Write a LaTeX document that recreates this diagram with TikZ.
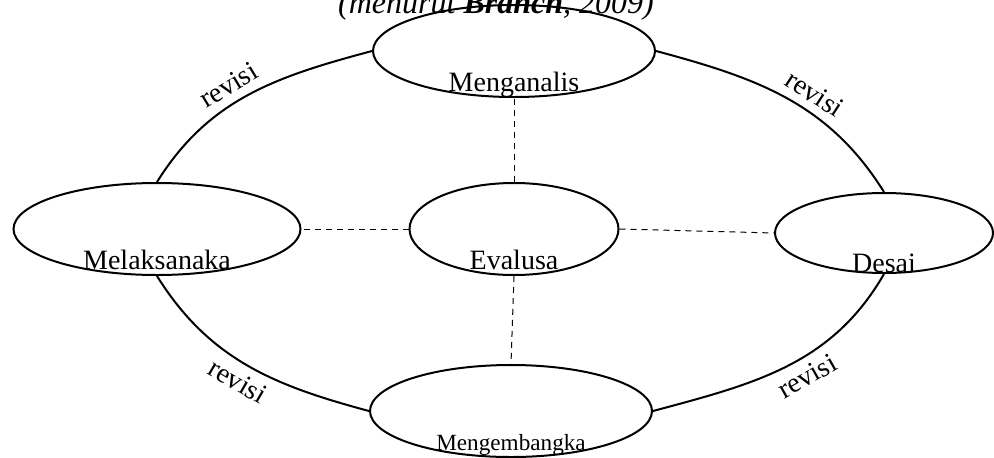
\documentclass[tikz,border=0pt]{standalone}
\usepackage{fontspec}
\setmainfont{Liberation Serif}
\usetikzlibrary{shapes.geometric}

\begin{document}
\begin{tikzpicture}[x=0.5pt, y=0.5pt,
	tahap/.style={ellipse, draw=black, line width=1pt, inner sep=0pt},
	teks/.style={font=\fontsize{14}{17}\selectfont, anchor=base, yshift=3.5pt},
	siklus/.style={line width=1pt},
	garis/.style={line width=0.5pt, dash pattern=on 3pt off 2.5pt},
	rev/.style={font=\fontsize{14}{17}\selectfont, sloped, inner sep=1pt}]
			\useasboundingbox (0,0) rectangle (994,457);
			\node[font=\fontsize{16}{19}\selectfont\itshape, anchor=base](judul) at (496,444){(menurut \textbf{Branch}, 2009)};
			\node[tahap, minimum width=141pt, minimum height=46pt, label={[teks]south:Menganalis}](men) at (514,406){};
			\node[tahap, minimum width=143.5pt, minimum height=46pt, label={[teks]south:Melaksanaka}](mel) at (157,228){};
			\node[tahap, minimum width=104.5pt, minimum height=46pt, label={[teks]south:Evalusa}](eva) at (514,228){};
			\node[tahap, minimum width=109pt, minimum height=40pt, label={[teks, yshift=-2.5pt]south:Desai}](des) at (884,224){};
			\node[tahap, minimum width=141pt, minimum height=46pt, label={[teks, font=\fontsize{11.6}{14}\selectfont, yshift=0.5pt]south:Mengembangka}](mgb) at (511,46){};
			% siklus revisi
			\draw[siklus] (mel.north) to[out=58, in=195] node[rev, above=3pt, pos=0.45]{revisi} (men.west);
			\draw[siklus] (men.east) to[out=-15, in=122] node[rev, above=3pt, pos=0.58]{revisi} (des.north);
			\draw[siklus] (mel.south) to[out=-58, in=165] node[rev, below=3pt, pos=0.5]{revisi} (mgb.west);
			\draw[siklus] (mgb.east) to[out=15, in=240] node[rev, below=3pt, pos=0.55]{revisi} (des.south);
			% evaluasi
			\draw[garis] (eva.west) -- (mel.east);
			\draw[garis] (eva.east) -- (des.west);
			\draw[garis] (eva.north) -- (men.south);
			\draw[garis] (eva.south) -- (mgb.north);
\end{tikzpicture}
\end{document}
